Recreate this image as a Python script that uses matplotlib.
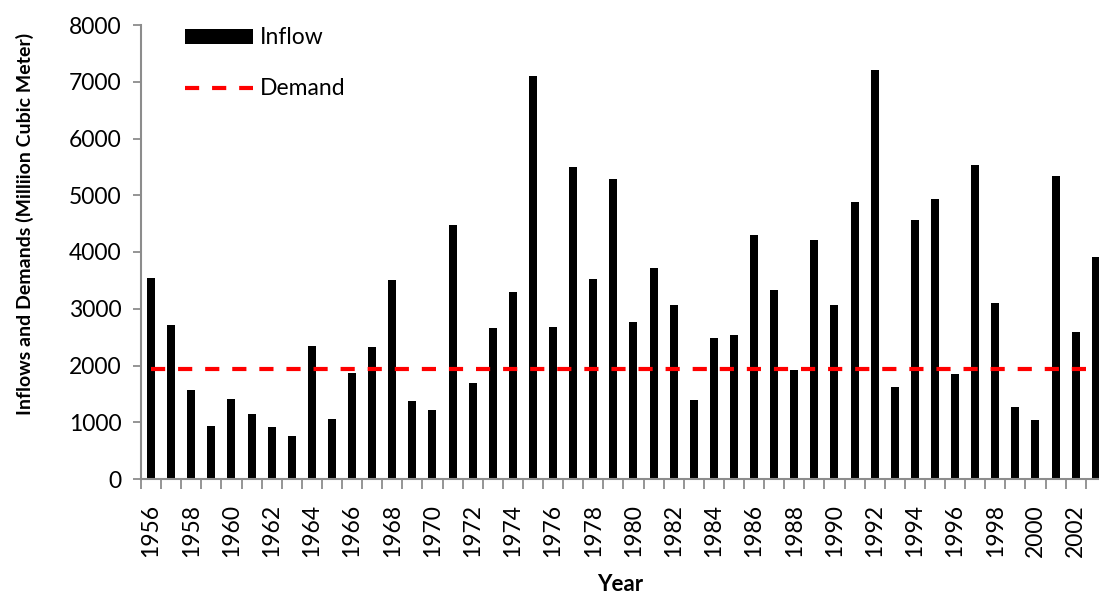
import matplotlib.pyplot as plt
import numpy as np

plt.rcParams['font.family'] = ['Lato', 'DejaVu Sans']

# annual inflow (million cubic meter)
years = list(range(1956, 2004))
inflow = [3550, 2710, 1575, 935, 1415, 1145, 920, 750, 2350, 1055,
          1870, 2325, 3505, 1375, 1210, 4480, 1700, 2660, 3295, 7105,
          2680, 5505, 3520, 5280, 2765, 3715, 3070, 1400, 2485, 2535,
          4300, 3330, 1915, 4205, 3070, 4880, 7205, 1620, 4560, 4940,
          1845, 5535, 3100, 1275, 1035, 5335, 2590, 3915]
demand = [1935] * len(years)
tick_years = [y for y in years if y % 2 == 0]

x = np.arange(len(years))

fig = plt.figure(figsize=(10.99, 5.94), dpi=100)
ax = fig.add_axes([141 / 1099, 1 - 479 / 594, 1 - 141 / 1099, 454 / 594])

bars = ax.bar(x, inflow, width=0.4, color='black', label='Inflow', zorder=2)
line, = ax.plot(x, demand, color='red', linestyle=(0, (3.4, 3.1)), linewidth=3,
                label='Demand', zorder=3)

ax.set_ylim(0, 8000)
ax.set_xlim(-0.5, (1099 - 141) / 20.1 - 0.5)
ax.set_yticks(range(0, 8001, 1000))

# labels on even years, tick marks between categories
ax.set_xticks([years.index(y) for y in tick_years])
ax.set_xticklabels([str(y) for y in tick_years], rotation=90)
ax.set_xticks(x - 0.5, minor=True)
ax.tick_params(axis='x', which='major', length=0, pad=18, labelsize=16.5)
ax.tick_params(axis='x', which='minor', length=7, width=1.3, color='#8c8c8c')
ax.tick_params(axis='y', length=6, width=1.3, color='#8c8c8c', labelsize=16.5, pad=8)

for side in ['top', 'right']:
    ax.spines[side].set_visible(False)
for side in ['left', 'bottom']:
    ax.spines[side].set_color('#8c8c8c')
    ax.spines[side].set_linewidth(1.5)

ax.set_ylabel('Inflows and Demands (Milliion Cubic Meter)', fontsize=14,
              fontweight='bold')
ax.yaxis.set_label_coords(-0.112, 0.562)
ax.set_xlabel('Year', fontsize=16, fontweight='bold', labelpad=12)

ax.legend([bars, line], ['Inflow', 'Demand'], loc='upper left',
          bbox_to_anchor=(0.024, 1.04), frameon=False,
          fontsize=16.5, handlelength=3.0, handleheight=0.6, labelspacing=1.3,
          handletextpad=0.3)

plt.savefig('out.png', dpi=100)
